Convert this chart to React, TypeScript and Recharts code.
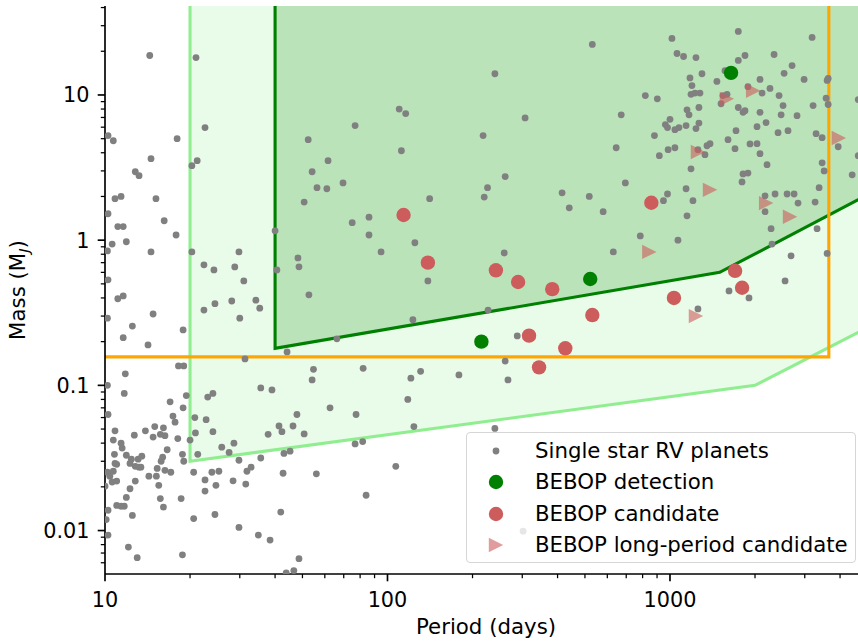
import React from 'react';
import { ComposedChart, XAxis, YAxis, Area, Line, Scatter } from 'recharts';

const FONT = '"DejaVu Sans", Verdana, sans-serif';

// Single-star RV planets: [period (days), mass (MJ)]
const rvPlanets: [number, number][] = [
  [14.4, 18.7], [21.0, 18.1], [22.6, 5.96], [18.0, 5.0], [10.25, 5.25], [10.7, 4.84], [14.55, 3.64], [20.3, 3.26],
  [21.2, 3.53], [12.8, 2.96], [13.2, 2.78], [10.85, 1.93], [11.4, 2.0], [15.15, 1.93], [10.25, 1.52], [16.2, 1.36],
  [240, 14.0], [110, 8.0], [116, 7.44], [307, 6.95], [76.8, 6.15], [52.4, 4.92], [218, 5.25], [112, 4.13],
  [61.6, 3.53], [54.1, 2.96], [261, 2.74], [56.3, 2.3], [61, 2.26], [69.6, 2.48], [226, 2.3], [220, 1.98],
  [141, 1.93], [50.7, 1.83], [415, 2.12], [440, 1.67], [86, 1.44], [75, 1.32], [531, 22.3], [1016, 24.5],
  [1745, 27.4], [3185, 24.9], [1059, 19.3], [1117, 18.4], [1236, 18.1], [1843, 18.7], [1745, 17.3], [2336, 19.0],
  [2705, 15.95], [2535, 14.1], [2984, 12.8], [1298, 14.0], [1177, 13.1], [1466, 12.4], [1566, 14.7], [2083, 12.8],
  [3630, 13.0], [3600, 12.6], [1196, 11.6], [1187, 10.1], [1226, 10.3], [1277, 10.3], [818, 9.9], [902, 9.4],
  [1888, 11.4], [2118, 10.3], [2260, 11.1], [2433, 9.9], [1592, 10.1], [1540, 9.9], [1516, 8.7], [3570, 9.5],
  [4640, 9.3], [672, 7.3], [1149, 7.9], [1168, 7.3], [1266, 8.2], [1745, 8.2], [1814, 7.6], [1843, 7.8],
  [2083, 7.6], [2514, 8.45], [2474, 7.3], [3211, 8.45], [3630, 8.6], [2817, 7.2], [1000, 6.8], [963, 6.25],
  [980, 5.96], [1041, 5.77], [1076, 5.96], [1140, 6.15], [1236, 5.87], [1266, 6.4], [1713, 5.68], [2033, 6.05],
  [2188, 6.45], [2413, 5.5], [2617, 5.68], [3290, 5.41], [3456, 5.08], [881, 5.25], [645, 4.33], [917, 3.82],
  [985, 4.2], [1041, 4.33], [1352, 4.47], [1386, 4.62], [1256, 4.2], [1330, 3.88], [1605, 4.92], [1699, 4.27],
  [1920, 4.6], [2033, 4.62], [2083, 3.94], [3940, 4.4], [4640, 3.82], [2206, 3.31], [1187, 3.1], [3456, 3.41],
  [3513, 3.0], [1814, 2.86], [1888, 2.9], [1799, 2.52], [4415, 2.82], [695, 2.48], [3372, 2.3], [518, 2.0],
  [980, 2.08], [948, 1.87], [1140, 2.26], [1206, 1.87], [2170, 2.02], [2355, 2.08], [2597, 2.08], [2750, 2.08],
  [2840, 1.8], [3264, 1.83], [580, 1.57], [2170, 1.57], [1149, 1.47], [11.1, 1.24], [11.6, 1.24], [17.85, 1.085],
  [10.6, 0.94], [11.9, 0.975], [10.2, 0.843], [14.55, 0.83], [20.3, 0.83], [40.0, 1.16], [40.6, 0.624], [22.4, 0.676],
  [24.3, 0.624], [28.8, 0.654], [29.8, 0.83], [31.0, 0.524], [10.25, 0.533], [11.1, 0.395], [11.6, 0.413], [28.1, 0.381],
  [34.2, 0.386], [35.3, 0.34], [22.4, 0.33], [24.5, 0.365], [14.8, 0.31], [30.0, 0.29], [10.2, 0.29], [12.5, 0.256],
  [18.9, 0.241], [11.6, 0.213], [14.2, 0.19], [44.1, 0.17], [18.2, 0.136], [19.0, 0.136], [31.3, 0.152], [11.8, 0.12],
  [10.2, 0.1], [11.7, 0.088], [19.4, 0.085], [23.1, 0.083], [24.1, 0.088], [35.6, 0.096], [39.0, 0.093], [48.2, 0.755],
  [48.6, 0.655], [86, 1.085], [125, 0.96], [94.9, 0.83], [139, 0.524], [259, 0.816], [52.7, 0.42], [227, 0.33],
  [123, 0.283], [66.2, 0.209], [288, 0.219], [261, 0.147], [54.7, 0.129], [54.1, 0.109], [82, 0.131], [121, 0.112],
  [131, 0.125], [179, 0.118], [267, 0.109], [118, 0.08], [2280, 1.2], [3317, 1.2], [785, 1.07], [1067, 1.0],
  [2297, 0.94], [630, 0.83], [2683, 0.78], [3600, 0.81], [1618, 0.447], [1904, 0.4], [2555, 0.524], [1256, 0.336],
  [17.0, 0.077], [18.9, 0.07], [10.25, 0.063], [17.4, 0.0614], [17.7, 0.0558], [20.8, 0.06], [22.8, 0.058], [47.8, 0.063],
  [10.85, 0.0486], [12.7, 0.0454], [13.9, 0.0486], [15.0, 0.052], [16.1, 0.051], [14.8, 0.044], [15.7, 0.046], [16.3, 0.045],
  [10.7, 0.042], [11.4, 0.04], [18.1, 0.043], [20.9, 0.047], [24.1, 0.048], [37.8, 0.046], [41.3, 0.0525], [42.3, 0.048],
  [46.3, 0.0525], [20.0, 0.042], [16.6, 0.036], [10.8, 0.0335], [11.5, 0.037], [11.9, 0.033], [25.9, 0.0375], [28.6, 0.04],
  [27.5, 0.0345], [21.3, 0.0335], [43.0, 0.034], [45.2, 0.0352], [13.5, 0.0325], [13.1, 0.031], [16.0, 0.032], [15.8, 0.03],
  [18.8, 0.0335], [19.0, 0.03], [10.85, 0.029], [11.0, 0.0286], [12.4, 0.031], [12.26, 0.029], [35.6, 0.0316], [29.8, 0.0305],
  [12.8, 0.0277], [13.2, 0.0273], [13.4, 0.0273], [10.2, 0.0252], [10.4, 0.0237], [10.7, 0.0256], [15.3, 0.0268], [16.3, 0.026],
  [20.6, 0.0252], [17.1, 0.0252], [14.3, 0.0237], [15.2, 0.0237], [23.9, 0.0252], [25.3, 0.0256], [31.8, 0.0256], [32.9, 0.0273],
  [42.7, 0.0248], [22.6, 0.0223], [28.4, 0.022], [12.8, 0.0219], [10.6, 0.0216], [11.0, 0.0219], [15.5, 0.0205], [24.7, 0.0205],
  [31.5, 0.0209], [10.0, 0.0202], [12.26, 0.0194], [22.6, 0.0187], [11.9, 0.0169], [15.7, 0.0166], [18.6, 0.0166], [11.0, 0.0149],
  [11.4, 0.0147], [11.7, 0.0147], [16.1, 0.0145], [10.25, 0.0138], [12.5, 0.0127], [24.5, 0.0129], [41.9, 0.0134], [10.1, 0.0119],
  [20.6, 0.0121], [29.8, 0.0105], [10.25, 0.0093], [34.9, 0.0093], [38.4, 0.0086], [12.1, 0.0077], [18.8, 0.0068], [13.0, 0.0065],
  [48.6, 0.0064], [43.8, 0.0051], [46.6, 0.0053], [62.6, 0.07], [77.4, 0.063], [50.7, 0.0463], [124, 0.052], [240, 0.0505],
  [76.8, 0.0395], [81.7, 0.041], [56, 0.0246], [107, 0.0277], [84, 0.0175], [302, 0.0099],
];

const bebopDetections: [number, number][] = [[1645, 14.2], [215, 0.2], [522, 0.54]];

const bebopCandidates: [number, number][] = [
  [114, 1.49], [139, 0.7], [242, 0.62], [290, 0.515], [383, 0.46], [859, 1.81], [317, 0.22],
  [426, 0.18], [344, 0.133], [531, 0.305], [1033, 0.4], [1700, 0.615], [1800, 0.47],
];

const bebopLongPeriod: [number, number][] = [
  [1590, 9.4], [1970, 10.7], [1256, 4.05], [1386, 2.22], [2190, 1.8], [2660, 1.45], [3960, 5.05], [845, 0.83], [1236, 0.3],
];

// Sensitivity / survey boundaries: [period, mass]
const broadLimit: [number, number][] = [[20, 0.03], [2000, 0.1], [5000, 0.25]];
const bebopLimit: [number, number][] = [[40, 0.18], [1500, 0.6], [5000, 2.05]];
const orangeBox: [number, number][] = [[10, 0.157], [3650, 0.157], [3650, 41]];

const X_DOMAIN: [number, number] = [10, 4630];
const Y_DOMAIN: [number, number] = [0.00502, 41];

const periodTicks = [10, 20, 30, 40, 50, 60, 70, 80, 90, 100, 200, 300, 400, 500, 600, 700, 800, 900, 1000, 2000, 3000, 4000];
const majorPeriodTicks = [10, 100, 1000];
const massTicks = [0.006, 0.007, 0.008, 0.009, 0.01, 0.02, 0.03, 0.04, 0.05, 0.06, 0.07, 0.08, 0.09, 0.1, 0.2, 0.3, 0.4, 0.5,
  0.6, 0.7, 0.8, 0.9, 1, 2, 3, 4, 5, 6, 7, 8, 9, 10, 20, 30, 40];
const majorMassTicks = [0.01, 0.1, 1, 10];

const legendLabels = ['Single star RV planets', 'BEBOP detection', 'BEBOP candidate', 'BEBOP long-period candidate'];

const toPts = (arr: [number, number][]) => arr.map(([p, m]) => ({ p, m }));
const rvData = toPts(rvPlanets);
const detData = toPts(bebopDetections);
const candData = toPts(bebopCandidates);
const longData = toPts(bebopLongPeriod);

const broadArea = broadLimit.map(([p, m]) => ({ p, range: [m, Y_DOMAIN[1]] }));
const bebopArea = bebopLimit.map(([p, m]) => ({ p, range: [m, Y_DOMAIN[1]] }));
const broadEdge = [{ p: broadLimit[0][0], m: Y_DOMAIN[1] }, ...toPts(broadLimit)];
const bebopEdge = [{ p: bebopLimit[0][0], m: Y_DOMAIN[1] }, ...toPts(bebopLimit)];
const orangeEdge = toPts(orangeBox);

const GREY = '#808080';
const GREEN = '#008000';
const RED = '#CD5C5C';
const LIGHTGREEN = '#90EE90';
const ORANGE = '#FFA500';
const TEXT_SIZE = 21.3;

const GreyDot = (p: any) => <circle cx={p.cx} cy={p.cy} r={3.4} fill={GREY} />;
const GreenDot = (p: any) => <circle cx={p.cx} cy={p.cy} r={7.2} fill={GREEN} />;
const RedDot = (p: any) => <circle cx={p.cx} cy={p.cy} r={7.2} fill={RED} />;
const Tri = (p: any) => (
  <polygon
    points={`${p.cx - 7.2},${p.cy - 7.2} ${p.cx - 7.2},${p.cy + 7.2} ${p.cx + 7.2},${p.cy}`}
    fill={RED}
    fillOpacity={0.6}
  />
);

const XTick = (props: any) => {
  const { x, y, payload } = props;
  const v = payload.value;
  const major = majorPeriodTicks.includes(v);
  return (
    <g>
      <line x1={x} x2={x} y1={y} y2={y + (major ? 7.3 : 4.2)} stroke="#000" strokeWidth={major ? 1.67 : 1.25} />
      {major && (
        <text x={x} y={y + 33} textAnchor="middle" fontSize={20.8} fontFamily={FONT} fill="#000">
          {String(v)}
        </text>
      )}
    </g>
  );
};

const YTick = (props: any) => {
  const { x, y, payload } = props;
  const v = payload.value;
  const major = majorMassTicks.includes(v);
  return (
    <g>
      <line x1={x} x2={x - (major ? 7.3 : 4.2)} y1={y} y2={y} stroke="#000" strokeWidth={major ? 1.67 : 1.25} />
      {major && (
        <text x={x - 15.5} y={y + 7.4} textAnchor="end" fontSize={20.8} fontFamily={FONT} fill="#000">
          {String(v)}
        </text>
      )}
    </g>
  );
};

const XTitle = () => (
  <text x={486} y={634} textAnchor="middle" fontSize={TEXT_SIZE} fontFamily={FONT} fill="#000">
    Period (days)
  </text>
);

const YTitle = () => (
  <text x={25} y={290} transform="rotate(-90, 25, 290)" textAnchor="middle" fontSize={TEXT_SIZE} fontFamily={FONT} fill="#000">
    Mass (M
    <tspan dy={4} fontSize={14.8} fontStyle="italic">J</tspan>
    <tspan dy={-4}>)</tspan>
  </text>
);

const LegendBox = () => {
  const rowY = [19, 50, 82, 113];
  const mx = 30;
  return (
    <div
      style={{
        position: 'absolute', left: 466, top: 432, width: 390, height: 131, boxSizing: 'border-box',
        border: '1.5px solid #d6d6d6', borderRadius: 4, background: 'rgba(255,255,255,0.8)',
      }}
    >
      <svg width={390} height={131} style={{ position: 'absolute', left: -1.5, top: -1.5 }}>
        <circle cx={mx} cy={rowY[0]} r={3.4} fill={GREY} />
        <circle cx={mx} cy={rowY[1]} r={7.2} fill={GREEN} />
        <circle cx={mx} cy={rowY[2]} r={7.2} fill={RED} />
        <polygon
          points={`${mx - 7.2},${rowY[3] - 7.2} ${mx - 7.2},${rowY[3] + 7.2} ${mx + 7.2},${rowY[3]}`}
          fill={RED}
          fillOpacity={0.6}
        />
        {legendLabels.map((t, i) => (
          <text key={t} x={69} y={rowY[i] + 7.3} fontSize={TEXT_SIZE} fontFamily={FONT} fill="#000">
            {t}
          </text>
        ))}
      </svg>
    </div>
  );
};

export default function App() {
  return (
    <div style={{ position: 'absolute', left: 0, top: 0, width: 858, height: 642, overflow: 'hidden', background: '#fff' }}>
      <ComposedChart width={858} height={642} margin={{ top: 6, right: 0, bottom: 38, left: 45 }}>
        <XAxis
          dataKey="p"
          type="number"
          scale="log"
          domain={X_DOMAIN}
          allowDataOverflow
          ticks={periodTicks}
          interval={0}
          tickSize={0}
          tickMargin={0}
          tickLine={false}
          tick={<XTick />}
          height={30}
          axisLine={{ stroke: '#000', strokeWidth: 1.67 }}
          label={<XTitle />}
        />
        <XAxis
          xAxisId="top"
          orientation="top"
          type="number"
          scale="log"
          domain={X_DOMAIN}
          allowDataOverflow
          height={0}
          tick={false}
          tickLine={false}
          axisLine={{ stroke: '#000', strokeWidth: 1.67 }}
        />
        <YAxis
          dataKey="m"
          type="number"
          scale="log"
          domain={Y_DOMAIN}
          allowDataOverflow
          ticks={massTicks}
          interval={0}
          tickSize={0}
          tickMargin={0}
          tickLine={false}
          tick={<YTick />}
          width={60}
          axisLine={{ stroke: '#000', strokeWidth: 1.67 }}
          label={<YTitle />}
        />
        <Area data={broadArea} dataKey="range" type="linear" fill={LIGHTGREEN} fillOpacity={0.2} stroke="none"
          dot={false} activeDot={false} isAnimationActive={false} />
        <Area data={bebopArea} dataKey="range" type="linear" fill={GREEN} fillOpacity={0.2} stroke="none"
          dot={false} activeDot={false} isAnimationActive={false} />
        <Line data={broadEdge} dataKey="m" type="linear" stroke={LIGHTGREEN} strokeWidth={3.1} dot={false}
          activeDot={false} isAnimationActive={false} />
        <Line data={bebopEdge} dataKey="m" type="linear" stroke={GREEN} strokeWidth={3.1} dot={false}
          activeDot={false} isAnimationActive={false} />
        <Line data={orangeEdge} dataKey="m" type="linear" stroke={ORANGE} strokeWidth={3.1} dot={false}
          activeDot={false} isAnimationActive={false} />
        <Scatter data={rvData} shape={GreyDot} isAnimationActive={false} />
        <Scatter data={detData} shape={GreenDot} isAnimationActive={false} />
        <Scatter data={candData} shape={RedDot} isAnimationActive={false} />
        <Scatter data={longData} shape={Tri} isAnimationActive={false} />
      </ComposedChart>
      <LegendBox />
    </div>
  );
}
